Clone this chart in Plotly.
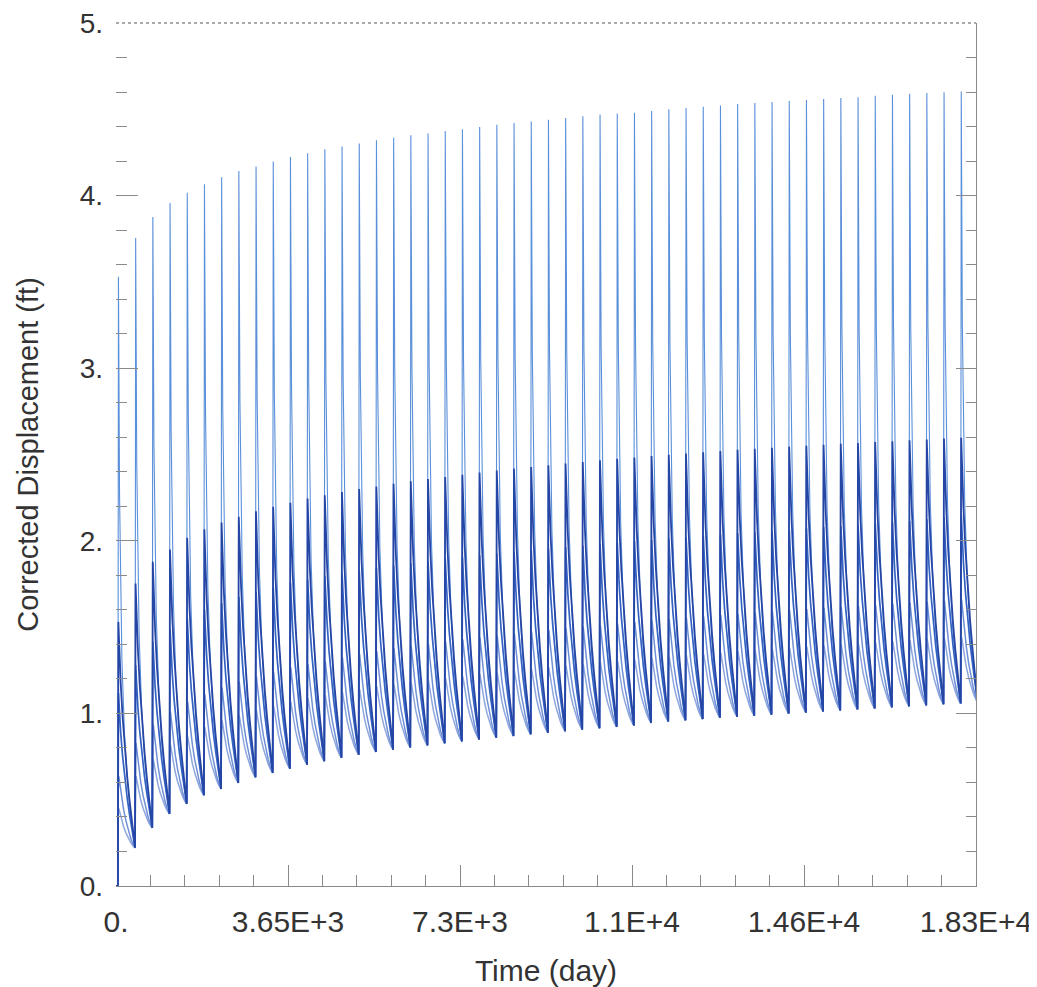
import plotly.graph_objects as go

# ---------------- data ----------------
# day on which each annual loading cycle starts (rise)
rise_day = [40, 405, 770, 1135, 1500, 1865, 2230, 2595, 2960, 3325,
            3690, 4055, 4420, 4785, 5150, 5515, 5880, 6245, 6610, 6975,
            7340, 7705, 8070, 8435, 8800, 9165, 9530, 9895, 10260, 10625,
            10990, 11355, 11720, 12085, 12450, 12815, 13180, 13545, 13910, 14275,
            14640, 15005, 15370, 15735, 16100, 16465, 16830, 17195, 17560, 17925]

# lower envelope: value reached at the end of each cycle (ft)
trough = [0.221, 0.337, 0.418, 0.476, 0.526, 0.562, 0.597, 0.630, 0.655, 0.680,
          0.703, 0.723, 0.743, 0.761, 0.777, 0.790, 0.803, 0.815, 0.827, 0.838,
          0.849, 0.859, 0.869, 0.879, 0.888, 0.897, 0.906, 0.914, 0.922, 0.930,
          0.945, 0.953, 0.960, 0.967, 0.975, 0.981, 0.987, 0.993, 0.999, 1.005,
          1.011, 1.017, 1.023, 1.029, 1.035, 1.041, 1.047, 1.053, 1.058, 1.062]

# yearly peak values of each curve (ft)
peak_1 = [3.53, 3.755, 3.876, 3.957, 4.017, 4.066, 4.107, 4.142, 4.169, 4.198,
          4.223, 4.246, 4.268, 4.285, 4.302, 4.320, 4.335, 4.350, 4.360, 4.375,
          4.385, 4.397, 4.410, 4.420, 4.430, 4.440, 4.450, 4.460, 4.470, 4.475,
          4.480, 4.490, 4.500, 4.507, 4.515, 4.522, 4.530, 4.536, 4.542, 4.548,
          4.554, 4.560, 4.565, 4.570, 4.578, 4.584, 4.590, 4.594, 4.599, 4.603]
peak_2 = [1.53, 1.753, 1.879, 1.950, 2.017, 2.067, 2.106, 2.139, 2.171, 2.197,
          2.220, 2.245, 2.264, 2.283, 2.300, 2.315, 2.330, 2.345, 2.358, 2.370,
          2.383, 2.395, 2.407, 2.418, 2.428, 2.438, 2.448, 2.457, 2.466, 2.475,
          2.483, 2.491, 2.499, 2.506, 2.513, 2.520, 2.527, 2.533, 2.539, 2.545,
          2.551, 2.557, 2.562, 2.567, 2.572, 2.577, 2.582, 2.587, 2.592, 2.597]
peak_3 = [1.12, 1.28, 1.416, 1.490, 1.550, 1.600, 1.640, 1.675, 1.705, 1.730,
          1.755, 1.775, 1.795, 1.812, 1.828, 1.843, 1.857, 1.870, 1.882, 1.894,
          1.905, 1.916, 1.926, 1.936, 1.946, 1.955, 1.964, 1.973, 1.981, 1.989,
          1.997, 2.005, 2.013, 2.021, 2.030, 2.037, 2.044, 2.051, 2.058, 2.065,
          2.072, 2.079, 2.086, 2.093, 2.100, 2.107, 2.115, 2.125, 2.137, 2.150]
peak_4 = [0.636, 0.828, 0.936, 1.010, 1.070, 1.110, 1.150, 1.185, 1.215, 1.240,
          1.265, 1.285, 1.305, 1.325, 1.343, 1.360, 1.377, 1.390, 1.403, 1.416,
          1.428, 1.440, 1.451, 1.462, 1.473, 1.483, 1.493, 1.503, 1.512, 1.521,
          1.530, 1.538, 1.546, 1.554, 1.562, 1.570, 1.577, 1.584, 1.591, 1.598,
          1.605, 1.611, 1.617, 1.623, 1.629, 1.635, 1.641, 1.647, 1.653, 1.659]
peak_5 = [0.450, 0.636, 0.734, 0.820, 0.867, 0.920, 0.960, 0.990, 1.020, 1.045,
          1.068, 1.088, 1.107, 1.124, 1.140, 1.155, 1.167, 1.180, 1.192, 1.204,
          1.215, 1.226, 1.237, 1.247, 1.257, 1.267, 1.277, 1.286, 1.295, 1.304,
          1.312, 1.320, 1.328, 1.336, 1.344, 1.352, 1.359, 1.366, 1.373, 1.380,
          1.387, 1.394, 1.400, 1.406, 1.412, 1.418, 1.424, 1.430, 1.436, 1.442]

# shape of one cycle: days after the rise, and the
# fraction of (peak - trough) still present at that day
shape_1_day = [0, 12, 35, 85, 140, 200, 260, 320, 360]
shape_1_frac = [0, 1.0, 0.62, 0.33, 0.20, 0.12, 0.065, 0.025, 0.0]
shape_2_day = [0, 10, 30, 60, 100, 150, 200, 250, 300, 340, 360]
shape_2_frac = [0, 1.0, 0.87, 0.73, 0.58, 0.43, 0.31, 0.205, 0.115, 0.045, 0.0]
shape_3_day = [0, 12, 30, 60, 100, 150, 200, 250, 300, 340, 360]
shape_3_frac = [0, 1.0, 0.88, 0.74, 0.59, 0.44, 0.315, 0.21, 0.115, 0.045, 0.0]
shape_45_day = [0, 8, 20, 35, 70, 120, 170, 220, 270, 320, 360]
shape_45_frac = [0, 0.80, 1.0, 0.93, 0.75, 0.54, 0.38, 0.25, 0.14, 0.055, 0.0]

x_tick_vals = [0, 3650, 7300, 10950, 14600, 18250]
x_tick_text = ["0.", "3.65E+3", "7.3E+3", "1.1E+4", "1.46E+4", "1.83E+4"]
x_minor_vals = [730, 1460, 2190, 2920, 4380, 5110, 5840, 6570, 8030, 8760, 9490,
                10220, 11680, 12410, 13140, 13870, 15330, 16060, 16790, 17520]
y_tick_vals = [0, 1, 2, 3, 4, 5]
y_tick_text = ["0.", "1.", "2.", "3.", "4.", "5."]


def build(peaks, sdays, sfrac):
    xs, ys = [0], [0.0]
    prev = 0.0
    for k, r in enumerate(rise_day):
        xs.append(r)
        ys.append(prev)
        for d, f in zip(sdays[1:], sfrac[1:]):
            xs.append(r + d)
            ys.append(trough[k] + (peaks[k] - trough[k]) * f)
        prev = trough[k]
    return xs, ys


series = [
    (peak_1, shape_1_day, shape_1_frac, "#5a8fda", 1.1),
    (peak_5, shape_45_day, shape_45_frac, "#8ea6de", 1.5),
    (peak_4, shape_45_day, shape_45_frac, "#7090d6", 1.5),
    (peak_3, shape_3_day, shape_3_frac, "#3462c2", 1.7),
    (peak_2, shape_2_day, shape_2_frac, "#2646a6", 1.8),
]

fig = go.Figure()
for peaks, sd, sf, col, w in series:
    xs, ys = build(peaks, sd, sf)
    fig.add_trace(go.Scatter(x=xs, y=ys, mode="lines",
                             line=dict(color=col, width=w),
                             showlegend=False, hoverinfo="skip"))

# invisible trace to carry the right-hand axis ticks
fig.add_trace(go.Scatter(x=[0], y=[0], yaxis="y2", mode="lines",
                         line=dict(width=0), showlegend=False, hoverinfo="skip"))

font_family = "Liberation Sans, Arial, sans-serif"
axis_grey = "#8a8a8a"
text_col = "#333333"

fig.update_layout(
    width=1029, height=979,
    margin=dict(l=108, r=61, t=15, b=101),
    paper_bgcolor="white", plot_bgcolor="white",
    font=dict(family=font_family, color=text_col),
    xaxis=dict(range=[0, 18250], showgrid=False, zeroline=False, automargin=False,
               showline=True, linecolor=axis_grey, linewidth=1.2,
               tickmode="array", tickvals=x_tick_vals, ticktext=x_tick_text,
               ticks="inside", ticklen=21, tickcolor=axis_grey, tickwidth=1,
               tickfont=dict(size=30, color=text_col),
               ticklabelstandoff=9, ticklabeloverflow="allow",
               minor=dict(tickmode="array", tickvals=x_minor_vals, ticks="inside",
                          ticklen=11, tickcolor=axis_grey, tickwidth=1),
               title=dict(text="Time (day)", font=dict(size=30, color=text_col),
                          standoff=22)),
    yaxis=dict(range=[0, 5], showgrid=False, zeroline=False, showline=False,
               automargin=False,
               tickmode="array", tickvals=y_tick_vals, ticktext=y_tick_text,
               ticks="inside", ticklen=22, tickcolor=axis_grey, tickwidth=1,
               tickfont=dict(size=28, color=text_col),
               ticklabelstandoff=12, ticklabeloverflow="allow",
               minor=dict(dtick=0.2, tick0=0, ticks="inside", ticklen=11,
                          tickcolor=axis_grey, tickwidth=1),
               title=dict(text="Corrected Displacement (ft)",
                          font=dict(size=29, color=text_col), standoff=32)),
    yaxis2=dict(range=[0, 5], overlaying="y", side="right", showgrid=False,
                zeroline=False, showline=True, linecolor=axis_grey, linewidth=1.2,
                automargin=False,
                tickmode="array", tickvals=y_tick_vals, ticks="inside",
                ticklen=20, tickcolor=axis_grey, tickwidth=1,
                showticklabels=False,
                minor=dict(dtick=0.2, tick0=0, ticks="inside", ticklen=10,
                           tickcolor=axis_grey, tickwidth=1)),
    shapes=[dict(type="line", xref="paper", yref="paper", x0=0, x1=1, y0=1, y1=1,
                 line=dict(color="#555555", width=1, dash="dot"))],
)

fig.write_html("out.html")
